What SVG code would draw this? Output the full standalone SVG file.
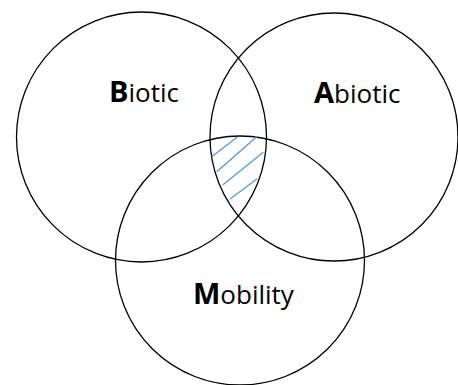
<svg xmlns="http://www.w3.org/2000/svg" width="458" height="385" viewBox="0 0 458 385">
<style>
.c{fill:none;stroke:#000;stroke-width:1.3}
.h{stroke:#5b9bd5;stroke-width:1.4;fill:none}
.t{font-family:"Open Sans","Liberation Sans",sans-serif;font-size:26px;fill:#000}
.b{font-weight:bold;font-size:29px}
</style>
<rect width="458" height="385" fill="#fff"/>
<g id="biotic"><circle class="c" cx="141.5" cy="137" r="125"/><text class="t" x="109" y="102"><tspan class="b">B</tspan>iotic</text></g>
<g id="abiotic"><circle class="c" cx="334" cy="137" r="124"/><text class="t" x="314" y="103"><tspan class="b">A</tspan>biotic</text></g>
<g id="mobility"><circle class="c" cx="240" cy="260.5" r="124.5"/><text class="t" x="193" y="304"><tspan class="b">M</tspan>obility</text></g>
<g id="hatch">
<line class="h" x1="211.7" y1="156.7" x2="237.7" y2="136.7"/>
<line class="h" x1="216.7" y1="171.7" x2="256.7" y2="136.7"/>
<line class="h" x1="222.7" y1="185" x2="263.3" y2="152.3"/>
<line class="h" x1="230" y1="199" x2="257.3" y2="178.7"/>
</g>
</svg>
